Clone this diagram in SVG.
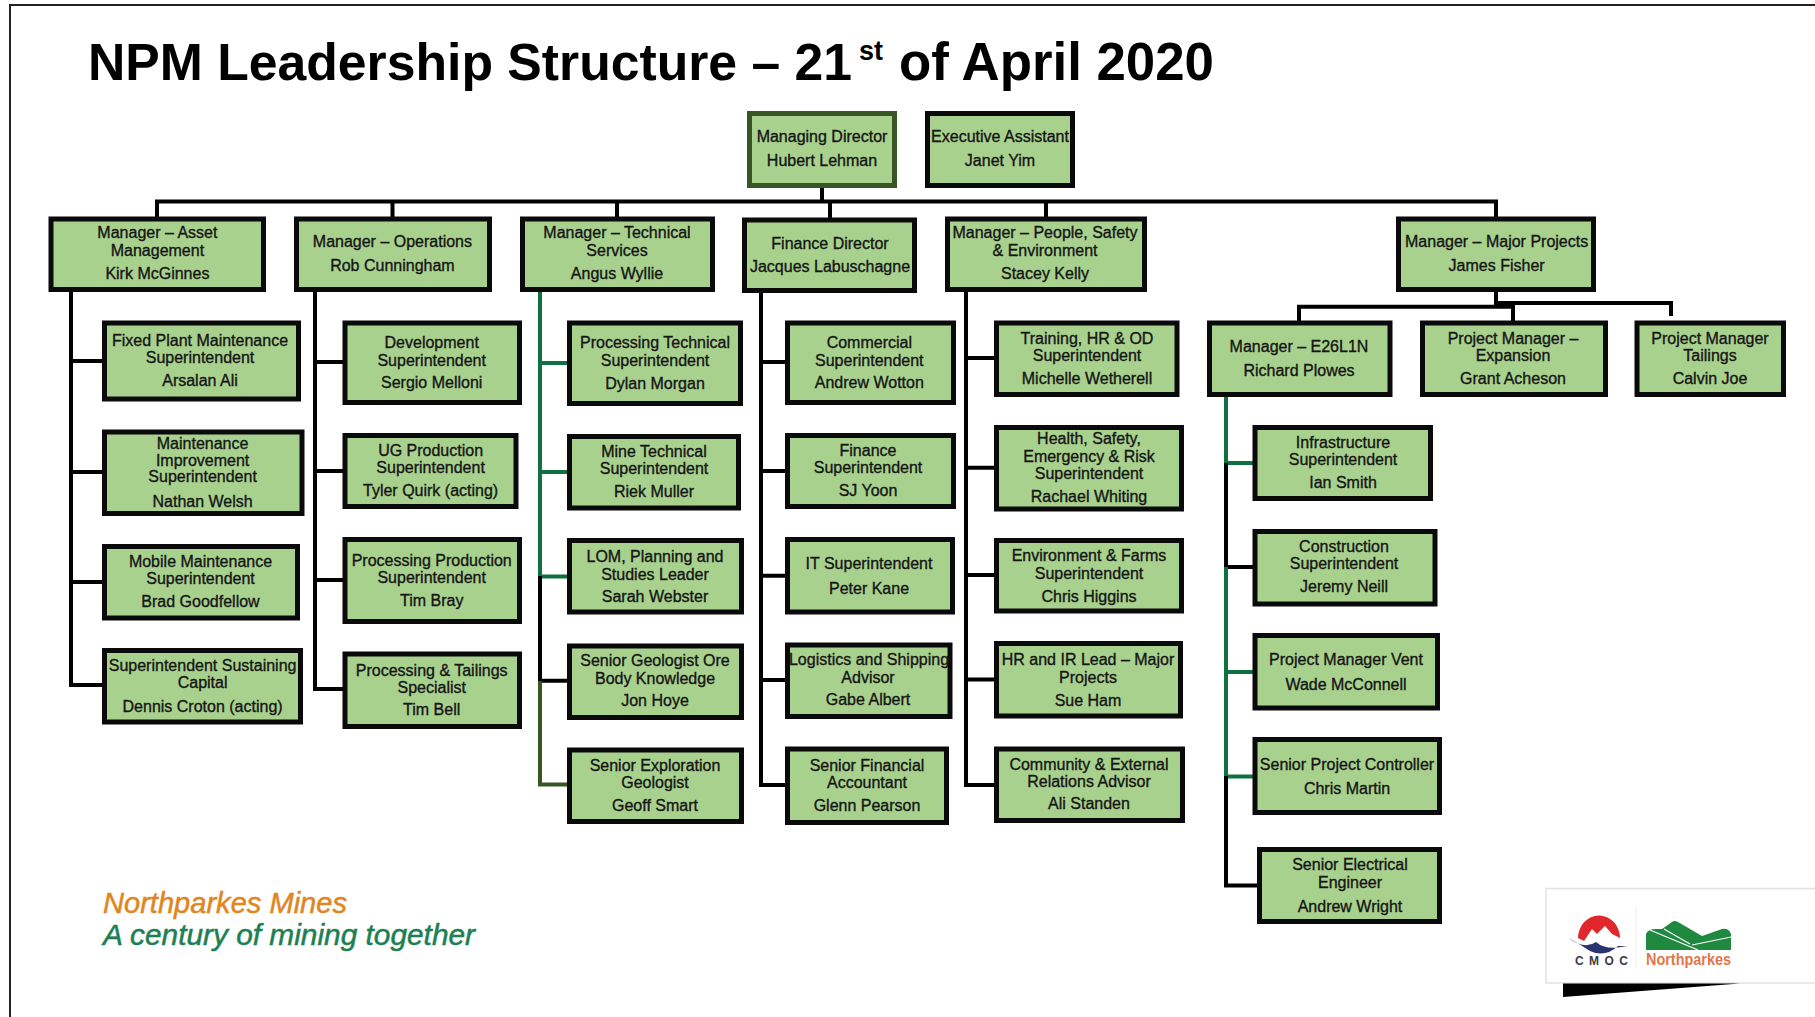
<svg xmlns="http://www.w3.org/2000/svg" width="1815" height="1017" viewBox="0 0 1815 1017">
<style>
text{font-family:"Liberation Sans","Noto Sans",sans-serif}
.b{fill:#a9d18e;stroke:#0a0a0a;stroke-width:5}
.d{fill:#a9d18e;stroke:#375623;stroke-width:5}
.t{font-size:16px;fill:#151515;text-anchor:middle;stroke:#151515;stroke-width:.35}
.k{fill:none;stroke:#000;stroke-width:4}
.g{fill:none;stroke:#0f7040;stroke-width:4}
.o{fill:none;stroke:#375623;stroke-width:4}
.h{font-weight:700;fill:#000}
.l{font-style:italic;stroke-width:.5}
</style>
<rect width="1815" height="1017" fill="#fff"/>
<path d="M1815 5H10V1017" fill="none" stroke="#222" stroke-width="2"/>
<g id="title">
<text class="h" x="88" y="80" font-size="51.700">NPM Leadership Structure – 21</text>
<text class="h" x="859" y="60" font-size="27">st</text>
<text class="h" x="899" y="80" font-size="52.800">of April 2020</text>
</g>
<g id="connectors">
<path class="k" d="M157 219V201.500H1496V219M392.500 201.500V219M617 201.500V219M830 201.500V219M1046 201.500V219M822 188V203"/>
<path class="k" d="M71 292V685H102M71 361H102M71 472H102M71 582H102"/>
<path class="k" d="M315 292V689H345M315 362H345M315 471H345M315 580H345"/>
<path class="g" d="M540 292V576M540 363H569M540 472H569M540 576.500H569"/>
<path class="k" d="M540 576V681M540 680.700H569"/>
<path class="o" d="M540 681V784.600H569"/>
<path class="k" d="M761 293V785H787M761 362H787M761 471H787M761 575.700H787M761 680H787"/>
<path class="k" d="M966 292V785H996M966 358H996M966 467.700H996M966 575H996M966 679.500H996"/>
<path class="k" d="M1496 292V305M1299 321V306.700H1513V321M1496 303H1671V316"/>
<path class="g" d="M1226 397V463M1226 463H1255"/>
<path class="k" d="M1226 463V567.500M1226 567H1255"/>
<path class="g" d="M1226 567V776.500M1226 672H1255M1226 776.500H1255"/>
<path class="k" d="M1226 776V885.500H1259"/>
</g>
<g id="n-md"><rect class="d" x="749.500" y="113.500" width="145" height="72"/><text class="t" x="822" y="142">Managing Director</text><text class="t" x="822" y="166.400">Hubert Lehman</text></g>
<g id="n-ea"><rect class="b" x="927.500" y="113.500" width="145" height="72"/><text class="t" x="1000" y="142">Executive Assistant</text><text class="t" x="1000" y="166.400">Janet Yim</text></g>
<g id="n-asset"><rect class="b" x="51" y="219" width="212.500" height="70.500"/><text class="t" x="157.400" y="238">Manager – Asset</text><text class="t" x="157.400" y="255.500">Management</text><text class="t" x="157.400" y="278.700">Kirk McGinnes</text></g>
<g id="n-ops"><rect class="b" x="296.500" y="219" width="193" height="70.500"/><text class="t" x="392.400" y="247.400">Manager – Operations</text><text class="t" x="392.400" y="270.600">Rob Cunningham</text></g>
<g id="n-tech"><rect class="b" x="522.500" y="219" width="190" height="70.500"/><text class="t" x="617" y="238">Manager – Technical</text><text class="t" x="617" y="255.500">Services</text><text class="t" x="617" y="278.700">Angus Wyllie</text></g>
<g id="n-fin"><rect class="b" x="744.500" y="220" width="170" height="70.500"/><text class="t" x="830" y="248.600">Finance Director</text><text class="t" x="830" y="271.700">Jacques Labuschagne</text></g>
<g id="n-people"><rect class="b" x="947.500" y="219" width="197" height="70.500"/><text class="t" x="1045" y="238">Manager – People, Safety</text><text class="t" x="1045" y="255.500">&amp; Environment</text><text class="t" x="1045" y="278.700">Stacey Kelly</text></g>
<g id="n-major"><rect class="b" x="1398.500" y="219" width="195" height="70.500"/><text class="t" x="1496.600" y="247.400">Manager – Major Projects</text><text class="t" x="1496.600" y="270.600">James Fisher</text></g>
<g id="n-e26"><rect class="b" x="1209.500" y="323" width="180.500" height="71.500"/><text class="t" x="1299" y="351.600">Manager – E26L1N</text><text class="t" x="1299" y="376">Richard Plowes</text></g>
<g id="n-exp"><rect class="b" x="1422.500" y="323" width="183" height="71.500"/><text class="t" x="1513" y="343.500">Project Manager –</text><text class="t" x="1513" y="360.900">Expansion</text><text class="t" x="1513" y="384">Grant Acheson</text></g>
<g id="n-tail"><rect class="b" x="1637" y="323" width="146.500" height="71.500"/><text class="t" x="1710" y="343.500">Project Manager</text><text class="t" x="1710" y="360.900">Tailings</text><text class="t" x="1710" y="384">Calvin Joe</text></g>
<g id="n-fixed"><rect class="b" x="104.500" y="323" width="194" height="76"/><text class="t" x="200" y="345.800">Fixed Plant Maintenance</text><text class="t" x="200" y="363">Superintendent</text><text class="t" x="200" y="386.300">Arsalan Ali</text></g>
<g id="n-maint"><rect class="b" x="104.500" y="432" width="197.500" height="81.500"/><text class="t" x="202.600" y="448.800">Maintenance</text><text class="t" x="202.600" y="466">Improvement</text><text class="t" x="202.600" y="482.400">Superintendent</text><text class="t" x="202.600" y="506.700">Nathan Welsh</text></g>
<g id="n-mobile"><rect class="b" x="104.500" y="546.500" width="193" height="71.500"/><text class="t" x="200.500" y="566.900">Mobile Maintenance</text><text class="t" x="200.500" y="584.300">Superintendent</text><text class="t" x="200.500" y="607.400">Brad Goodfellow</text></g>
<g id="n-sust"><rect class="b" x="104.500" y="650.500" width="196" height="71.500"/><text class="t" x="202.600" y="671">Superintendent Sustaining</text><text class="t" x="202.600" y="688.400">Capital</text><text class="t" x="202.600" y="711.600">Dennis Croton (acting)</text></g>
<g id="n-dev"><rect class="b" x="345" y="323" width="174.500" height="79.500"/><text class="t" x="431.700" y="348">Development</text><text class="t" x="431.700" y="365.500">Superintendent</text><text class="t" x="431.700" y="387.500">Sergio Melloni</text></g>
<g id="n-ug"><rect class="b" x="345" y="435.500" width="171" height="71"/><text class="t" x="430.600" y="455.800">UG Production</text><text class="t" x="430.600" y="473">Superintendent</text><text class="t" x="430.600" y="496.300">Tyler Quirk (acting)</text></g>
<g id="n-pp"><rect class="b" x="345" y="539.500" width="174.500" height="82"/><text class="t" x="431.700" y="565.700">Processing Production</text><text class="t" x="431.700" y="583">Superintendent</text><text class="t" x="431.700" y="606.200">Tim Bray</text></g>
<g id="n-pt"><rect class="b" x="345" y="654" width="174.500" height="72.500"/><text class="t" x="431.700" y="675.700">Processing &amp; Tailings</text><text class="t" x="431.700" y="693">Specialist</text><text class="t" x="431.700" y="715">Tim Bell</text></g>
<g id="n-pts"><rect class="b" x="569.500" y="323" width="171" height="80.500"/><text class="t" x="655" y="348">Processing Technical</text><text class="t" x="655" y="365.500">Superintendent</text><text class="t" x="655" y="388.600">Dylan Morgan</text></g>
<g id="n-mine"><rect class="b" x="569.500" y="436.500" width="169" height="71.500"/><text class="t" x="654" y="457">Mine Technical</text><text class="t" x="654" y="474.300">Superintendent</text><text class="t" x="654" y="497.400">Riek Muller</text></g>
<g id="n-lom"><rect class="b" x="569.500" y="540.500" width="172" height="71.500"/><text class="t" x="655" y="562.300">LOM, Planning and</text><text class="t" x="655" y="579.600">Studies Leader</text><text class="t" x="655" y="601.600">Sarah Webster</text></g>
<g id="n-geo"><rect class="b" x="569.500" y="646" width="172" height="71.500"/><text class="t" x="655" y="666.400">Senior Geologist Ore</text><text class="t" x="655" y="683.800">Body Knowledge</text><text class="t" x="655" y="705.800">Jon Hoye</text></g>
<g id="n-expl"><rect class="b" x="569.500" y="750" width="172" height="71.500"/><text class="t" x="655" y="770.600">Senior Exploration</text><text class="t" x="655" y="788">Geologist</text><text class="t" x="655" y="811">Geoff Smart</text></g>
<g id="n-comm"><rect class="b" x="787.500" y="323" width="166" height="79.500"/><text class="t" x="869.300" y="348">Commercial</text><text class="t" x="869.300" y="365.500">Superintendent</text><text class="t" x="869.300" y="387.500">Andrew Wotton</text></g>
<g id="n-fins"><rect class="b" x="787.500" y="435.500" width="166" height="71"/><text class="t" x="868" y="455.800">Finance</text><text class="t" x="868" y="473">Superintendent</text><text class="t" x="868" y="496.300">SJ Yoon</text></g>
<g id="n-it"><rect class="b" x="787.500" y="539.500" width="165" height="72.500"/><text class="t" x="869" y="569.200">IT Superintendent</text><text class="t" x="869" y="593.500">Peter Kane</text></g>
<g id="n-log"><rect class="b" x="787.500" y="645" width="162.500" height="71.500"/><text class="t" x="869" y="665.300">Logistics and Shipping</text><text class="t" x="868" y="682.600">Advisor</text><text class="t" x="868" y="704.600">Gabe Albert</text></g>
<g id="n-sfa"><rect class="b" x="787.500" y="749" width="159" height="73.500"/><text class="t" x="867" y="770.600">Senior Financial</text><text class="t" x="867" y="788">Accountant</text><text class="t" x="867" y="811">Glenn Pearson</text></g>
<g id="n-train"><rect class="b" x="996.500" y="323" width="180.500" height="71.500"/><text class="t" x="1087" y="343.500">Training, HR &amp; OD</text><text class="t" x="1087" y="360.900">Superintendent</text><text class="t" x="1087" y="384">Michelle Wetherell</text></g>
<g id="n-hse"><rect class="b" x="996.500" y="427.500" width="185" height="81.500"/><text class="t" x="1089" y="444.200">Health, Safety,</text><text class="t" x="1089" y="461.600">Emergency &amp; Risk</text><text class="t" x="1089" y="478.900">Superintendent</text><text class="t" x="1089" y="502">Rachael Whiting</text></g>
<g id="n-env"><rect class="b" x="996.500" y="540.500" width="185" height="70.500"/><text class="t" x="1089" y="561">Environment &amp; Farms</text><text class="t" x="1089" y="578.500">Superintendent</text><text class="t" x="1089" y="601.600">Chris Higgins</text></g>
<g id="n-hr"><rect class="b" x="996.500" y="643.500" width="184" height="72.500"/><text class="t" x="1088" y="665.300">HR and IR Lead – Major</text><text class="t" x="1088" y="682.600">Projects</text><text class="t" x="1088" y="705.800">Sue Ham</text></g>
<g id="n-cer"><rect class="b" x="996.500" y="749" width="186" height="71.500"/><text class="t" x="1089" y="769.500">Community &amp; External</text><text class="t" x="1089" y="786.800">Relations Advisor</text><text class="t" x="1089" y="808.800">Ali Standen</text></g>
<g id="n-infra"><rect class="b" x="1255" y="427.500" width="175.500" height="71"/><text class="t" x="1343" y="447.700">Infrastructure</text><text class="t" x="1343" y="465">Superintendent</text><text class="t" x="1343" y="488.200">Ian Smith</text></g>
<g id="n-con"><rect class="b" x="1255" y="531.500" width="180" height="72.500"/><text class="t" x="1344" y="551.800">Construction</text><text class="t" x="1344" y="569.200">Superintendent</text><text class="t" x="1344" y="592.400">Jeremy Neill</text></g>
<g id="n-pmv"><rect class="b" x="1255" y="635.500" width="182.500" height="72.500"/><text class="t" x="1346" y="665.300">Project Manager Vent</text><text class="t" x="1346" y="689.600">Wade McConnell</text></g>
<g id="n-spc"><rect class="b" x="1255" y="739.500" width="184.500" height="73"/><text class="t" x="1347" y="769.500">Senior Project Controller</text><text class="t" x="1347" y="793.800">Chris Martin</text></g>
<g id="n-see"><rect class="b" x="1259.500" y="849.500" width="180" height="72"/><text class="t" x="1350" y="870">Senior Electrical</text><text class="t" x="1350" y="887.500">Engineer</text><text class="t" x="1350" y="911.800">Andrew Wright</text></g>
<g id="tagline">
<text class="l" x="103" y="913" font-size="29" fill="#e0861f" stroke="#e0861f" textLength="244" lengthAdjust="spacingAndGlyphs">Northparkes Mines</text>
<text class="l" x="103" y="945" font-size="29" fill="#1c8052" stroke="#1c8052" textLength="372" lengthAdjust="spacingAndGlyphs">A century of mining together</text>
</g>
<g id="logo">
<path d="M1815 888.500H1546V983H1815" fill="none" stroke="#e2e2e2" stroke-width="1.500"/>
<path d="M1563 983.500H1740L1563 997Z" fill="#000"/>
<path d="M1636 905V968" stroke="#eee" stroke-width="1"/>
<path d="M1578 938A20.500 22 0 1 1 1620 938L1612 934L1605 926L1597 934L1592 929L1584 941Z" fill="#e0272b"/>
<path d="M1568 938Q1580 944 1590 951Q1605 958 1618 946L1627 946Q1606 951 1596 942Q1585 950 1568 938Z" fill="#2a3270"/>
<text x="1575" y="965" font-size="12" font-weight="700" fill="#3c3c44" textLength="53">CMOC</text>
<path d="M1646 950V934Q1648 929 1656 929L1662 929L1672 922Q1674 920 1678 922L1702 936L1722 929Q1729 928 1731 934V950Z" fill="#1f8a3f"/>
<path d="M1650 930L1698 950M1692 945L1731 937M1664 929L1690 944" fill="none" stroke="#fff" stroke-width="1.200"/>
<text x="1646" y="965" font-size="16" font-weight="700" fill="#e2764a" textLength="85" lengthAdjust="spacingAndGlyphs">Northparkes</text>
</g>
</svg>
